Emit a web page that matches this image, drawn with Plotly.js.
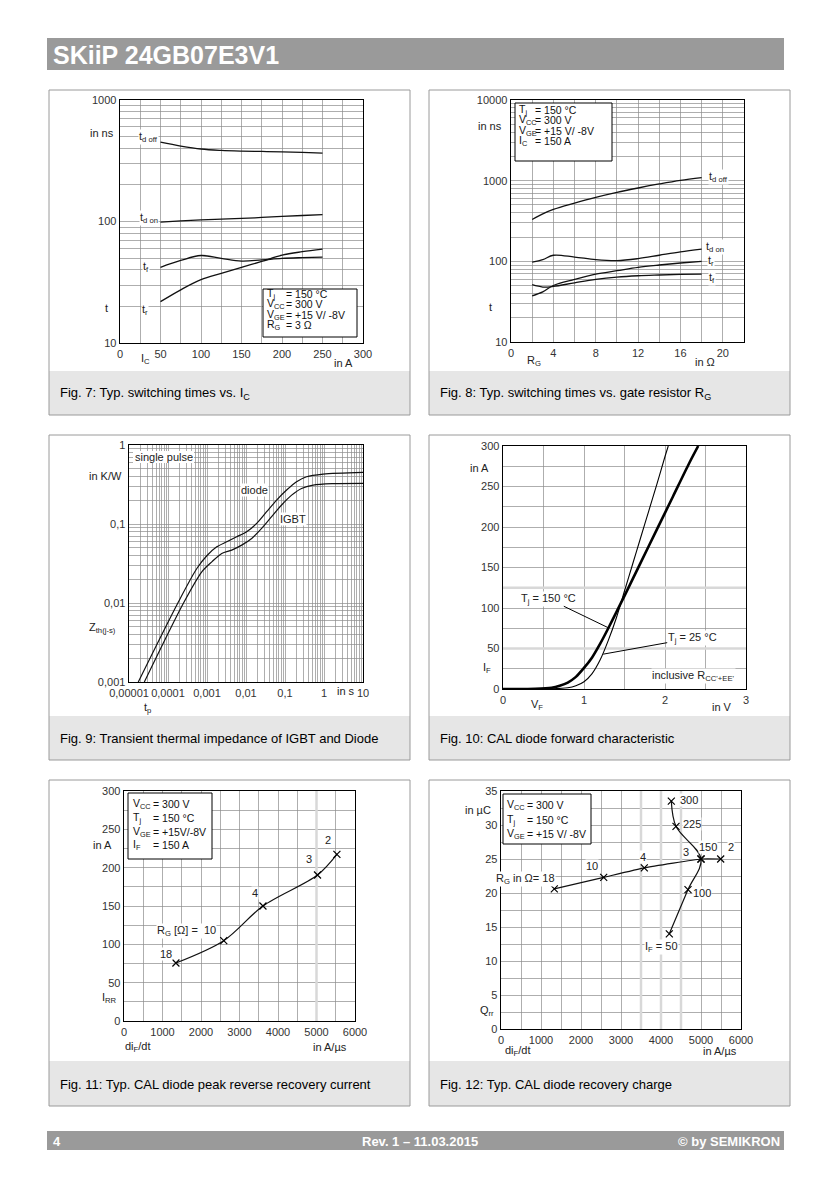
<!DOCTYPE html>
<html><head><meta charset="utf-8">
<script src="https://cdn.plot.ly/plotly-3.0.1.min.js"></script>
<style>html,body{margin:0;padding:0;background:#fff}#p{width:832px;height:1184px}</style>
</head><body><div id="p"></div>
<script>
// ---------- DATA ----------
// Fig. 7 : switching times vs IC
const f7_ic    = [50, 75, 100, 125, 150, 175, 200, 225, 250];
const f7_tdoff = [450, 418, 395, 385, 380, 377, 374, 370, 365];
const f7_tdon  = [98.7, 101, 103, 104.5, 106, 108, 110, 112, 114];
const f7_tf    = [42, 47.8, 52.5, 49.7, 47.2, 48.3, 49.7, 50.4, 50.9];
const f7_tr    = [21.9, 27.4, 33.2, 37.4, 41.9, 46.9, 52.8, 56.4, 59.3];
// Fig. 8 : switching times vs RG
const f8_rg    = [2, 3, 4, 6, 8, 10, 12, 14, 16, 18];
const f8_tdoff = [330, 388, 440, 527, 621, 716, 811, 910, 1009, 1090];
const f8_tdon  = [98, 105, 119, 113, 105, 102, 108, 119, 131, 142];
const f8_tr    = [37.4, 41.9, 50.2, 59.7, 69.5, 76.5, 84.2, 90, 95.3, 100];
const f8_tf    = [51.3, 48, 48.9, 54.2, 59.7, 63.8, 66.3, 67.7, 68.8, 69.5];
// Fig. 9 : transient thermal impedance
const f9_t_diode = [1.73e-5, 1.79e-4, 5.48e-4, 9.89e-4, 1.78e-3, 3.21e-3, 5.78e-3, 0.0104, 0.0188, 0.0338, 0.061, 0.110, 0.198, 0.357, 0.952, 10];
const f9_z_diode = [0.001, 0.01, 0.0273, 0.0396, 0.0514, 0.0595, 0.0689, 0.0797, 0.1017, 0.143, 0.201, 0.269, 0.343, 0.397, 0.429, 0.451];
const f9_t_igbt  = [2.47e-5, 2.50e-4, 7.36e-4, 1.33e-3, 2.39e-3, 4.31e-3, 7.76e-3, 0.014, 0.0252, 0.0454, 0.0818, 0.148, 0.266, 0.529, 1.71, 10];
const f9_z_igbt  = [0.001, 0.01, 0.0248, 0.0332, 0.0424, 0.0467, 0.054, 0.0656, 0.0879, 0.124, 0.174, 0.232, 0.282, 0.311, 0.324, 0.327];
// Fig. 10 : diode forward characteristic
const f10_v150 = [0, 0.4, 0.6, 0.7, 0.8, 0.9, 1.0, 1.1, 1.2, 1.3, 1.4, 1.5, 1.7, 1.9, 2.1, 2.3, 2.41];
const f10_i150 = [0, 0.2, 1.5, 4, 8, 15, 26, 39, 56, 75, 95, 115, 156, 197, 238, 279, 300];
const f10_v25  = [0, 0.6, 0.8, 0.9, 1.0, 1.1, 1.2, 1.3, 1.4, 1.5, 1.6, 1.7, 1.8, 1.9, 2.0, 2.04];
const f10_i25  = [0, 0.3, 1.5, 4, 9, 19, 36, 60, 88, 121, 154, 187, 220, 253, 287, 300];
// Fig. 11 : peak reverse recovery current
const f11_didt = [1348, 2591, 3609, 5026, 5530];
const f11_irr  = [75.7, 104.8, 150, 190.4, 217.4];
const f11_rg   = ['18', '10', '4', '3', '2'];
// Fig. 12 : recovery charge
const f12_rg_didt = [1333, 2567, 3583, 5000, 5492];
const f12_rg_qrr  = [20.6, 22.3, 23.7, 25.0, 25.0];
const f12_rg      = ['18', '10', '4', '3', '2'];
const f12_if_didt = [4208, 4675, 5000, 4375, 4258];
const f12_if_qrr  = [14.0, 20.5, 25.0, 29.8, 33.5];
const f12_if      = ['50', '100', '150', '225', '300'];

// ---------- helpers ----------
const W = 832, H = 1184;
const F = 'Liberation Sans, Arial, Helvetica, sans-serif';
const GRID = '#8c8c8c';

function A(px, py, text, o) {
  return Object.assign({xref:'paper', yref:'paper', x:px/W, y:1-py/H, text:text, showarrow:false,
    xanchor:'center', yanchor:'middle', font:{family:F, size:11, color:'#222'}}, o||{});
}
function rectP(x0,y0,x1,y1,o){
  return Object.assign({type:'rect', xref:'paper', yref:'paper', x0:x0/W, x1:x1/W, y0:1-y1/H, y1:1-y0/H}, o||{});
}
// major (labelled) and minor (grid only) tick positions
function linTicks(lo, hi, minor, major){
  const mv=[], mt=[], nv=[];
  const n = Math.round((hi-lo)/minor);
  for(let i=0;i<=n;i++){ const x = +(lo + i*minor).toFixed(6);
    if (Math.abs(x/major - Math.round(x/major))<1e-6){ mv.push(x); mt.push(String(x)); } else nv.push(x); }
  return {tickvals:mv, ticktext:mt, minor:{tickmode:'array', tickvals:nv, showgrid:true, gridcolor:GRID, gridwidth:0.7, ticks:''}};
}
function logTicks(lo, hi, labels){
  const mv=[], nv=[];
  for(let k=lo;k<=hi;k++){ mv.push(Math.pow(10,k)); if(k<hi) for(let d=2; d<=9; d++) nv.push(d*Math.pow(10,k)); }
  return {tickvals:mv, ticktext:labels, minor:{tickmode:'array', tickvals:nv, showgrid:true, gridcolor:GRID, gridwidth:0.7, ticks:''}};
}
function mkAxis(isX, p0, p1, anchor, o){
  const domain = isX ? [p0/W, p1/W] : [1-p1/H, 1-p0/H];
  return Object.assign({domain:domain, anchor:anchor, showline:true, linecolor:'#000', linewidth:1.4, mirror:true,
    showgrid:true, gridcolor:GRID, gridwidth:0.7, zeroline:false, ticks:'', tickmode:'array',
    tickfont:{family:F, size:11, color:'#333'}, fixedrange:true, automargin:false}, o||{});
}
function line(x, y, xa, ya, o){
  return Object.assign({type:'scatter', mode:'lines', x:x, y:y, xaxis:xa, yaxis:ya,
    line:{color:'#111', width:1.3, shape:'spline', smoothing:1}, hoverinfo:'skip', showlegend:false}, o||{});
}

// ---------- plot areas (page pixels) ----------
const P7  = {x0:120, x1:363, y0:100, y1:343};
const P8  = {x0:511, x1:744, y0:100, y1:342};
const P9  = {x0:129, x1:363, y0:445, y1:682};
const P10 = {x0:503, x1:746, y0:446, y1:689};
const P11 = {x0:124, x1:355, y0:791, y1:1021};
const P12 = {x0:501, x1:741, y0:791, y1:1029};

const layout = {
  width:W, height:H, margin:{l:0,r:0,t:0,b:0}, paper_bgcolor:'#fff', plot_bgcolor:'rgba(0,0,0,0)',
  showlegend:false, hovermode:false, font:{family:F, size:11, color:'#222'},
  xaxis:  mkAxis(true,  P7.x0, P7.x1, 'y',  Object.assign({range:[0,300]}, linTicks(0,300,25,50))),
  yaxis:  mkAxis(false, P7.y0, P7.y1, 'x',  Object.assign({type:'log', range:[1,3]}, logTicks(1,3,['10','100','1000']))),
  xaxis2: mkAxis(true,  P8.x0, P8.x1, 'y2', Object.assign({range:[0,22]}, linTicks(0,22,2,4))),
  yaxis2: mkAxis(false, P8.y0, P8.y1, 'x2', Object.assign({type:'log', range:[1,4]}, logTicks(1,4,['10','100','1000','10000']))),
  xaxis3: mkAxis(true,  P9.x0, P9.x1, 'y3', Object.assign({type:'log', range:[-5,1]}, logTicks(-5,1,['0,00001','0,0001','0,001','0,01','0,1','1','10']))),
  yaxis3: mkAxis(false, P9.y0, P9.y1, 'x3', Object.assign({type:'log', range:[-3,0]}, logTicks(-3,0,['0,001','0,01','0,1','1']))),
  xaxis4: mkAxis(true,  P10.x0, P10.x1, 'y4', Object.assign({range:[0,3]}, linTicks(0,3,0.5,1))),
  yaxis4: mkAxis(false, P10.y0, P10.y1, 'x4', Object.assign({range:[0,300]}, linTicks(0,300,25,50))),
  xaxis5: mkAxis(true,  P11.x0, P11.x1, 'y5', Object.assign({range:[0,6000]}, linTicks(0,6000,500,1000))),
  yaxis5: mkAxis(false, P11.y0, P11.y1, 'x5', Object.assign({range:[0,300]}, linTicks(0,300,25,50))),
  xaxis6: mkAxis(true,  P12.x0, P12.x1, 'y6', Object.assign({range:[0,6000]}, linTicks(0,6000,500,1000))),
  yaxis6: mkAxis(false, P12.y0, P12.y1, 'x6', Object.assign({range:[0,35]}, linTicks(0,35,2.5,5))),
  shapes:[], annotations:[]
};

const S = layout.shapes, N = layout.annotations;
// header / footer
S.push(rectP(47,38,784,70,{fillcolor:'#9a9a9a', line:{width:0}, layer:'below'}));
S.push(rectP(47,1131,784,1150,{fillcolor:'#9a9a9a', line:{width:0}, layer:'below'}));
N.push(A(51,55,'<b>SKiiP 24GB07E3V1</b>',{xanchor:'left', font:{family:F, size:25, color:'#fff'}}));
N.push(A(51,1141,'<b>4</b>',{xanchor:'left', font:{family:F, size:13, color:'#fff'}}));
N.push(A(420,1141,'<b>Rev. 1 – 11.03.2015</b>',{font:{family:F, size:13, color:'#fff'}}));
N.push(A(782,1141,'<b>© by SEMIKRON</b>',{xanchor:'right', font:{family:F, size:13, color:'#fff'}}));

// panels
const rows = [[90,415,371],[435,760,716],[780,1106,1061]];
const cols = [[49,410],[429,790]];
const caps = [['Fig. 7: Typ. switching times vs. I<sub>C</sub>','Fig. 8: Typ. switching times vs. gate resistor R<sub>G</sub>'],
              ['Fig. 9: Transient thermal impedance of IGBT and Diode','Fig. 10: CAL diode forward characteristic'],
              ['Fig. 11: Typ. CAL diode peak reverse recovery current','Fig. 12: Typ. CAL diode recovery charge']];
rows.forEach((r,ri)=>cols.forEach((c,ci)=>{
  S.push(rectP(c[0],r[2],c[1],r[1],{fillcolor:'#e6e6e6', line:{width:0}, layer:'below'}));
  S.push(rectP(c[0],r[0],c[1],r[1],{line:{color:'#9a9a9a', width:1}, layer:'below'}));
  N.push(A(c[0]+9,(r[2]+r[1])/2+0.5,caps[ri][ci],{xanchor:'left', font:{family:F, size:13, color:'#000'}}));
}));

// light scan-artifact grid lines (between gridlines and curves)
const LC = {color:'#d8d8d8', width:2.5};
function hl(xa,ya,x0,x1,y){ S.push({type:'line', xref:xa, yref:ya, x0:x0, x1:x1, y0:y, y1:y, line:LC, layer:'between'}); }
function vl(xa,ya,x,y0,y1){ S.push({type:'line', xref:xa, yref:ya, x0:x, x1:x, y0:y0, y1:y1, line:LC, layer:'between'}); }
hl('x','y',0,300,Math.log10(400)); hl('x','y',0,300,2); hl('x','y',0,300,Math.log10(60)); vl('x','y',75,1,3);
hl('x2','y2',0,22,Math.log10(200)); hl('x2','y2',0,22,Math.log10(60));
hl('x4','y4',0,3,125); hl('x4','y4',0,3,50);
vl('x5','y5',5000,0,300);
vl('x6','y6',3500,0,35); vl('x6','y6',4000,0,35); vl('x6','y6',4500,0,35);

// legend boxes
const LF = {family:F, size:10.5, color:'#111'};
function lbox(x0,y0,x1,y1, lines, nx, vx){
  S.push(rectP(x0,y0,x1,y1,{line:{color:'#000', width:1}, fillcolor:'#fff', layer:'above'}));
  lines.forEach(l=>{
    N.push(A(nx,l[0],l[1],{xanchor:'left', font:LF}));
    N.push(A(vx,l[0],l[2],{xanchor:'left', font:LF}));
  });
}
lbox(263,289,357,337,[[294,'T<sub>j</sub>','= 150 °C'],[304,'V<sub>CC</sub>','= 300 V'],[314.5,'V<sub>GE</sub>','= +15 V/ -8V'],[324.5,'R<sub>G</sub>','= 3 Ω']],265,284);
lbox(515,103,612,161,[[110,'T<sub>j</sub>','= 150 °C'],[120,'V<sub>CC</sub>','= 300 V'],[130.5,'V<sub>GE</sub>','= +15 V/ -8V'],[140.5,'I<sub>C</sub>','= 150 A']],517,533);
lbox(128,793,212,859,[[804,'V<sub>CC</sub>','= 300 V'],[818,'T<sub>j</sub>','= 150 °C'],[832,'V<sub>GE</sub>','= +15V/-8V'],[845,'I<sub>F</sub>','= 150 A']],131,151);
lbox(503,794,591,844,[[805,'V<sub>CC</sub>','= 300 V'],[819.5,'T<sub>j</sub>','= 150 °C'],[834,'V<sub>GE</sub>','= +15 V/ -8V']],505,525);

// ---------- traces ----------
const data = [];
data.push(line(f7_ic, f7_tdoff, 'x','y'));
data.push(line(f7_ic, f7_tdon, 'x','y'));
data.push(line(f7_ic, f7_tf, 'x','y'));
data.push(line(f7_ic, f7_tr, 'x','y'));
data.push(line(f8_rg, f8_tdoff, 'x2','y2'));
data.push(line(f8_rg, f8_tdon, 'x2','y2'));
data.push(line(f8_rg, f8_tr, 'x2','y2'));
data.push(line(f8_rg, f8_tf, 'x2','y2'));
data.push(line(f9_t_diode, f9_z_diode, 'x3','y3',{line:{color:'#111', width:1.2, shape:'spline', smoothing:0.8}}));
data.push(line(f9_t_igbt, f9_z_igbt, 'x3','y3',{line:{color:'#111', width:1.2, shape:'spline', smoothing:0.8}}));
data.push(line(f10_v150, f10_i150, 'x4','y4',{line:{color:'#000', width:2.6, shape:'spline', smoothing:0.8}}));
data.push(line(f10_v25, f10_i25, 'x4','y4',{line:{color:'#000', width:1.1, shape:'spline', smoothing:0.8}}));
const mk = {symbol:'x-thin-open', size:7, color:'#000', line:{width:1.2, color:'#000'}};
data.push(line(f11_didt, f11_irr, 'x5','y5',{mode:'lines+markers', marker:mk, line:{color:'#111', width:1.2, shape:'spline', smoothing:0.9}}));
data.push(line(f12_rg_didt, f12_rg_qrr, 'x6','y6',{mode:'lines+markers', marker:mk, line:{color:'#111', width:1.2, shape:'spline', smoothing:0.4}}));
data.push(line(f12_if_didt, f12_if_qrr, 'x6','y6',{mode:'lines+markers', marker:mk, line:{color:'#111', width:1.2, shape:'spline', smoothing:1}}));

// ---------- labels ----------
const LB = {bgcolor:'#fff', borderpad:0};
// Fig 7
N.push(A(148,137,'t<sub>d off</sub>',LB));
N.push(A(149,218,'t<sub>d on</sub>',LB));
N.push(A(146,267,'t<sub>f</sub>',LB));
N.push(A(145,310,'t<sub>r</sub>',LB));
N.push(A(102,133,'in ns'));
N.push(A(106,308,'t'));
N.push(A(145,359,'I<sub>C</sub>'));
N.push(A(343,363,'in A',LB));
// Fig 8
N.push(A(718,177,'t<sub>d off</sub>',LB));
N.push(A(715,247,'t<sub>d on</sub>',LB));
N.push(A(711,261,'t<sub>r</sub>',LB));
N.push(A(712,278,'t<sub>f</sub>',LB));
N.push(A(490,126,'in ns'));
N.push(A(491,307,'t'));
N.push(A(534,361,'R<sub>G</sub>'));
N.push(A(705,362,'in Ω',LB));
// Fig 9
S.push(rectP(133,451,194,463,{fillcolor:'#fff', line:{width:0}, layer:'above'}));
N.push(A(163.5,457,'single pulse'));
N.push(A(254,490,'diode',LB));
N.push(A(293,519,'IGBT',LB));
N.push(A(105,476,'in K/W'));
N.push(A(102,628,'Z<sub>th(j-s)</sub>'));
N.push(A(147,708,'t<sub>p</sub>'));
N.push(A(346,691,'in s',LB));
// Fig 10
N.push(A(480,468,'in A'));
N.push(A(487,668,'I<sub>F</sub>'));
N.push(A(537,705,'V<sub>F</sub>'));
N.push(A(722,707,'in V'));
N.push({xref:'x4', yref:'y4', x:1.3, y:75.6, text:'T<sub>j</sub> = 150 °C', showarrow:true, arrowhead:0, arrowwidth:1, arrowcolor:'#000',
  ax:-60, ay:-29, bgcolor:'#fff', borderpad:0, font:{family:F,size:11,color:'#222'}});
N.push({xref:'x4', yref:'y4', x:1.237, y:43, text:'T<sub>j</sub> = 25 °C', showarrow:true, arrowhead:0, arrowwidth:1, arrowcolor:'#000',
  ax:89, ay:-16, bgcolor:'#fff', borderpad:0, font:{family:F,size:11,color:'#222'}});
N.push(A(693,676,'inclusive R<sub>CC\'+EE\'</sub>',LB));
// Fig 11
N.push(A(102,845,'in A'));
N.push(A(109,998,'I<sub>RR</sub>'));
N.push(A(138,1047,'di<sub>F</sub>/dt'));
N.push(A(330,1047,'in A/µs'));
const s11 = [[-10,9,'center'],[-7,10,'right'],[-8,13,'center'],[-9,16,'center'],[-9,14,'center']];
f11_rg.forEach((r,i)=>{
  const txt = i===1 ? 'R<sub>G</sub> [Ω] =  '+r : r;
  N.push({xref:'x5', yref:'y5', x:f11_didt[i], y:f11_irr[i], text:txt, showarrow:false, xanchor:s11[i][2], yanchor:'middle',
    xshift:s11[i][0], yshift:s11[i][1], bgcolor:'#fff', borderpad:0, font:{family:F,size:11,color:'#222'}});
});
// Fig 12
N.push(A(478,810,'in µC'));
N.push(A(487,1011,'Q<sub>rr</sub>'));
N.push(A(518,1051,'di<sub>F</sub>/dt'));
N.push(A(720,1051,'in A/µs'));
const s12r = [[2,10,'right'],[-12,11,'center'],[-1,11,'center'],[-15,7,'center'],[10,12,'center']];
f12_rg.forEach((r,i)=>{
  const txt = i===0 ? 'R<sub>G</sub> in Ω= '+r : r;
  N.push({xref:'x6', yref:'y6', x:f12_rg_didt[i], y:f12_rg_qrr[i], text:txt, showarrow:false, xanchor:s12r[i][2], yanchor:'middle',
    xshift:s12r[i][0], yshift:s12r[i][1], bgcolor:'#fff', borderpad:0, font:{family:F,size:11,color:'#222'}});
});
const s12f = [[-8,-13],[14,-3],[7,12],[16,2],[18,1]];
f12_if.forEach((r,i)=>{
  const txt = i===0 ? 'I<sub>F</sub> = '+r : r;
  N.push({xref:'x6', yref:'y6', x:f12_if_didt[i], y:f12_if_qrr[i], text:txt, showarrow:false, xanchor:'center', yanchor:'middle',
    xshift:s12f[i][0], yshift:s12f[i][1], bgcolor:'#fff', borderpad:0, font:{family:F,size:11,color:'#222'}});
});

Plotly.newPlot('p', data, layout, {displayModeBar:false, staticPlot:true});
</script></body></html>
